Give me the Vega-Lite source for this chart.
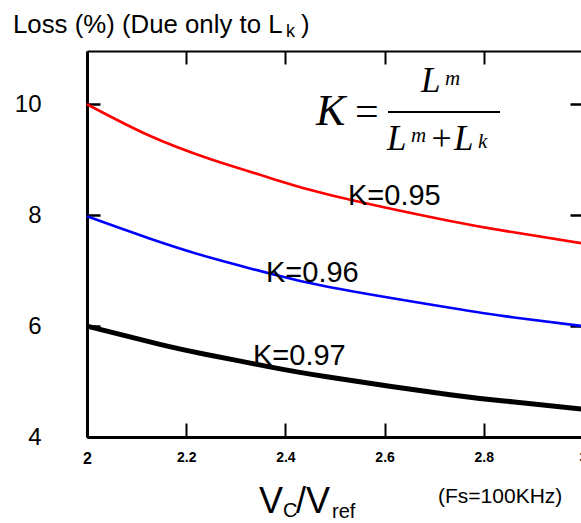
{
  "$schema": "https://vega.github.io/schema/vega-lite/v6.json",
  "width": 496,
  "height": 386,
  "autosize": {"type": "none"},
  "padding": {"left": 87, "top": 51, "right": 0, "bottom": 86},
  "background": "white",
  "data": {"values": [{}]},
  "config": {"view": {"stroke": null}, "font": "Liberation Sans", "text": {"font": "Liberation Sans", "color": "black", "align": "left", "baseline": "alphabetic"}},
  "datasets": {
    "curves": [
      {"x": 2.0, "y": 10.0, "k": "0.95"},
      {"x": 2.123, "y": 9.445, "k": "0.95"},
      {"x": 2.248, "y": 9.013, "k": "0.95"},
      {"x": 2.363, "y": 8.688, "k": "0.95"},
      {"x": 2.49, "y": 8.364, "k": "0.95"},
      {"x": 2.732, "y": 7.895, "k": "0.95"},
      {"x": 2.857, "y": 7.696, "k": "0.95"},
      {"x": 3.0, "y": 7.49, "k": "0.95"},
      {"x": 2.0, "y": 7.98, "k": "0.96"},
      {"x": 2.123, "y": 7.59, "k": "0.96"},
      {"x": 2.248, "y": 7.235, "k": "0.96"},
      {"x": 2.363, "y": 6.96, "k": "0.96"},
      {"x": 2.49, "y": 6.7, "k": "0.96"},
      {"x": 2.732, "y": 6.33, "k": "0.96"},
      {"x": 2.857, "y": 6.16, "k": "0.96"},
      {"x": 3.0, "y": 6.0, "k": "0.96"},
      {"x": 2.0, "y": 6.0, "k": "0.97"},
      {"x": 2.147, "y": 5.67, "k": "0.97"},
      {"x": 2.238, "y": 5.493, "k": "0.97"},
      {"x": 2.363, "y": 5.274, "k": "0.97"},
      {"x": 2.49, "y": 5.077, "k": "0.97"},
      {"x": 2.732, "y": 4.762, "k": "0.97"},
      {"x": 2.857, "y": 4.635, "k": "0.97"},
      {"x": 3.0, "y": 4.5, "k": "0.97"}
    ]
  },
  "layer": [
    {
      "data": {"name": "curves"},
      "transform": [{"filter": "datum.k != '0.97'"}],
      "mark": {"type": "line", "interpolate": "natural", "strokeWidth": 2.6},
      "encoding": {
        "x": {"field": "x", "type": "quantitative", "scale": {"domain": [2, 3], "nice": false, "zero": false},
          "axis": {"orient": "bottom", "title": null, "values": [2, 2.2, 2.4, 2.6, 2.8, 3], "format": "~g", "grid": false,
            "domainColor": "black", "domainWidth": 3, "tickColor": "black", "tickWidth": 2, "tickSize": -14,
            "labelFont": "Liberation Sans", "labelFontWeight": "bold", "labelColor": "black",
            "labelFontSize": {"expr": "datum.value == 2 ? 16 : 14"},
            "labelPadding": 27, "labelFlush": false, "labelOverlap": false}},
        "y": {"field": "y", "type": "quantitative", "scale": {"domain": [4, 10.96], "nice": false, "zero": false},
          "axis": {"orient": "left", "title": null, "values": [4, 6, 8, 10], "grid": false,
            "domainColor": "black", "domainWidth": 3, "tickColor": "black", "tickWidth": 2.5, "tickSize": -13,
            "labelFont": "Liberation Sans", "labelFontSize": 24, "labelColor": "black", "labelPadding": 59,
            "labelBaseline": "middle", "labelFlush": false, "labelOverlap": false}},
        "color": {"field": "k", "type": "nominal", "scale": {"domain": ["0.95", "0.96"], "range": ["#ff0000", "#0000ff"]}, "legend": null}
      }
    },
    {
      "data": {"name": "curves"},
      "transform": [{"filter": "datum.k == '0.97'"}],
      "mark": {"type": "line", "interpolate": "natural", "strokeWidth": 5, "color": "black"},
      "encoding": {
        "x": {"field": "x", "type": "quantitative", "scale": {"domain": [2, 3], "nice": false, "zero": false}, "axis": null},
        "y": {"field": "y", "type": "quantitative", "scale": {"domain": [4, 10.96], "nice": false, "zero": false}, "axis": null}
      }
    },
    {
      "mark": {"type": "rule", "color": "black", "strokeWidth": 2},
      "encoding": {
        "x": {"datum": 2.6069, "type": "quantitative", "scale": {"domain": [2, 3], "nice": false, "zero": false},
          "axis": {"orient": "top", "title": null, "values": [2, 2.2, 2.4, 2.6, 2.8, 3], "grid": false, "labels": false,
            "domainColor": "black", "domainWidth": 2, "tickColor": "black", "tickWidth": 2, "tickSize": -13}},
        "x2": {"datum": 2.8327},
        "y": {"datum": 9.86, "type": "quantitative", "scale": {"domain": [4, 10.96], "nice": false, "zero": false},
          "axis": {"orient": "right", "title": null, "values": [4, 6, 8, 10], "grid": false, "labels": false,
            "domainColor": "black", "domainWidth": 2, "tickColor": "black", "tickWidth": 2.5, "tickSize": -13}}
      }
    },
    {
      "mark": {"type": "text", "text": "K", "font": "Liberation Serif", "fontStyle": "italic", "fontSize": 44},
      "encoding": {
        "x": {"datum": 2.4617, "type": "quantitative", "scale": {"domain": [2, 3], "nice": false, "zero": false}, "axis": null},
        "y": {"datum": 9.626, "type": "quantitative", "scale": {"domain": [4, 10.96], "nice": false, "zero": false}, "axis": null}
      }
    },
    {
      "mark": {"type": "text", "text": "=", "font": "Liberation Serif", "fontSize": 42},
      "encoding": {
        "x": {"datum": 2.5403, "type": "quantitative", "scale": {"domain": [2, 3], "nice": false, "zero": false}, "axis": null},
        "y": {"datum": 9.626, "type": "quantitative", "scale": {"domain": [4, 10.96], "nice": false, "zero": false}, "axis": null}
      }
    },
    {
      "mark": {"type": "text", "text": "L", "font": "Liberation Serif", "fontStyle": "italic", "fontSize": 35},
      "encoding": {
        "x": {"datum": 2.6734, "type": "quantitative", "scale": {"domain": [2, 3], "nice": false, "zero": false}, "axis": null},
        "y": {"datum": 10.221, "type": "quantitative", "scale": {"domain": [4, 10.96], "nice": false, "zero": false}, "axis": null}
      }
    },
    {
      "mark": {"type": "text", "text": "m", "font": "Liberation Serif", "fontStyle": "italic", "fontSize": 21},
      "encoding": {
        "x": {"datum": 2.7218, "type": "quantitative", "scale": {"domain": [2, 3], "nice": false, "zero": false}, "axis": null},
        "y": {"datum": 10.347, "type": "quantitative", "scale": {"domain": [4, 10.96], "nice": false, "zero": false}, "axis": null}
      }
    },
    {
      "mark": {"type": "text", "text": "L", "font": "Liberation Serif", "fontStyle": "italic", "fontSize": 35},
      "encoding": {
        "x": {"datum": 2.6049, "type": "quantitative", "scale": {"domain": [2, 3], "nice": false, "zero": false}, "axis": null},
        "y": {"datum": 9.175, "type": "quantitative", "scale": {"domain": [4, 10.96], "nice": false, "zero": false}, "axis": null}
      }
    },
    {
      "mark": {"type": "text", "text": "m", "font": "Liberation Serif", "fontStyle": "italic", "fontSize": 21},
      "encoding": {
        "x": {"datum": 2.6532, "type": "quantitative", "scale": {"domain": [2, 3], "nice": false, "zero": false}, "axis": null},
        "y": {"datum": 9.319, "type": "quantitative", "scale": {"domain": [4, 10.96], "nice": false, "zero": false}, "axis": null}
      }
    },
    {
      "mark": {"type": "text", "text": "+", "font": "Liberation Serif", "fontSize": 36},
      "encoding": {
        "x": {"datum": 2.6945, "type": "quantitative", "scale": {"domain": [2, 3], "nice": false, "zero": false}, "axis": null},
        "y": {"datum": 9.175, "type": "quantitative", "scale": {"domain": [4, 10.96], "nice": false, "zero": false}, "axis": null}
      }
    },
    {
      "mark": {"type": "text", "text": "L", "font": "Liberation Serif", "fontStyle": "italic", "fontSize": 35},
      "encoding": {
        "x": {"datum": 2.7399, "type": "quantitative", "scale": {"domain": [2, 3], "nice": false, "zero": false}, "axis": null},
        "y": {"datum": 9.175, "type": "quantitative", "scale": {"domain": [4, 10.96], "nice": false, "zero": false}, "axis": null}
      }
    },
    {
      "mark": {"type": "text", "text": "k", "font": "Liberation Serif", "fontStyle": "italic", "fontSize": 21},
      "encoding": {
        "x": {"datum": 2.7883, "type": "quantitative", "scale": {"domain": [2, 3], "nice": false, "zero": false}, "axis": null},
        "y": {"datum": 9.211, "type": "quantitative", "scale": {"domain": [4, 10.96], "nice": false, "zero": false}, "axis": null}
      }
    },
    {
      "mark": {"type": "text", "text": "K=0.95", "fontSize": 29},
      "encoding": {
        "x": {"datum": 2.5262, "type": "quantitative", "scale": {"domain": [2, 3], "nice": false, "zero": false}, "axis": null},
        "y": {"datum": 8.183, "type": "quantitative", "scale": {"domain": [4, 10.96], "nice": false, "zero": false}, "axis": null}
      }
    },
    {
      "mark": {"type": "text", "text": "K=0.96", "fontSize": 29},
      "encoding": {
        "x": {"datum": 2.3609, "type": "quantitative", "scale": {"domain": [2, 3], "nice": false, "zero": false}, "axis": null},
        "y": {"datum": 6.795, "type": "quantitative", "scale": {"domain": [4, 10.96], "nice": false, "zero": false}, "axis": null}
      }
    },
    {
      "mark": {"type": "text", "text": "K=0.97", "fontSize": 29},
      "encoding": {
        "x": {"datum": 2.3347, "type": "quantitative", "scale": {"domain": [2, 3], "nice": false, "zero": false}, "axis": null},
        "y": {"datum": 5.298, "type": "quantitative", "scale": {"domain": [4, 10.96], "nice": false, "zero": false}, "axis": null}
      }
    },
    {
      "mark": {"type": "text", "text": "Loss (%) (Due only to L", "fontSize": 25.8},
      "encoding": {
        "x": {"datum": 1.8508, "type": "quantitative", "scale": {"domain": [2, 3], "nice": false, "zero": false}, "axis": null},
        "y": {"datum": 11.285, "type": "quantitative", "scale": {"domain": [4, 10.96], "nice": false, "zero": false}, "axis": null}
      }
    },
    {
      "mark": {"type": "text", "text": "k", "fontSize": 18},
      "encoding": {
        "x": {"datum": 2.4012, "type": "quantitative", "scale": {"domain": [2, 3], "nice": false, "zero": false}, "axis": null},
        "y": {"datum": 11.212, "type": "quantitative", "scale": {"domain": [4, 10.96], "nice": false, "zero": false}, "axis": null}
      }
    },
    {
      "mark": {"type": "text", "text": ")", "fontSize": 25.8},
      "encoding": {
        "x": {"datum": 2.4315, "type": "quantitative", "scale": {"domain": [2, 3], "nice": false, "zero": false}, "axis": null},
        "y": {"datum": 11.285, "type": "quantitative", "scale": {"domain": [4, 10.96], "nice": false, "zero": false}, "axis": null}
      }
    },
    {
      "mark": {"type": "text", "text": "V", "fontSize": 36},
      "encoding": {
        "x": {"datum": 2.3468, "type": "quantitative", "scale": {"domain": [2, 3], "nice": false, "zero": false}, "axis": null},
        "y": {"datum": 2.63, "type": "quantitative", "scale": {"domain": [4, 10.96], "nice": false, "zero": false}, "axis": null}
      }
    },
    {
      "mark": {"type": "text", "text": "C", "fontSize": 20},
      "encoding": {
        "x": {"datum": 2.3952, "type": "quantitative", "scale": {"domain": [2, 3], "nice": false, "zero": false}, "axis": null},
        "y": {"datum": 2.5575, "type": "quantitative", "scale": {"domain": [4, 10.96], "nice": false, "zero": false}, "axis": null}
      }
    },
    {
      "mark": {"type": "text", "text": "/V", "fontSize": 36},
      "encoding": {
        "x": {"datum": 2.4214, "type": "quantitative", "scale": {"domain": [2, 3], "nice": false, "zero": false}, "axis": null},
        "y": {"datum": 2.63, "type": "quantitative", "scale": {"domain": [4, 10.96], "nice": false, "zero": false}, "axis": null}
      }
    },
    {
      "mark": {"type": "text", "text": "ref", "fontSize": 20},
      "encoding": {
        "x": {"datum": 2.4939, "type": "quantitative", "scale": {"domain": [2, 3], "nice": false, "zero": false}, "axis": null},
        "y": {"datum": 2.5395, "type": "quantitative", "scale": {"domain": [4, 10.96], "nice": false, "zero": false}, "axis": null}
      }
    },
    {
      "mark": {"type": "text", "text": "(Fs=100KHz)", "fontSize": 21},
      "encoding": {
        "x": {"datum": 2.7077, "type": "quantitative", "scale": {"domain": [2, 3], "nice": false, "zero": false}, "axis": null},
        "y": {"datum": 2.81, "type": "quantitative", "scale": {"domain": [4, 10.96], "nice": false, "zero": false}, "axis": null}
      }
    }
  ],
  "resolve": {"axis": {"x": "independent", "y": "independent"}}
}
